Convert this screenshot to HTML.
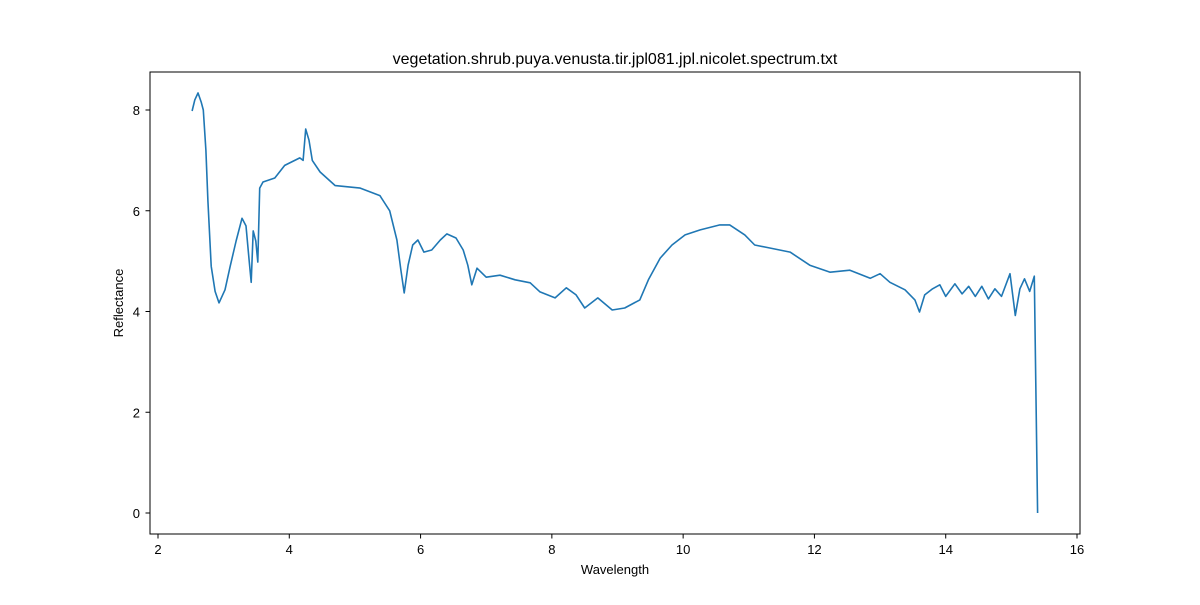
<!DOCTYPE html>
<html><head><meta charset="utf-8"><style>
body{margin:0;background:#fff;font-family:"Liberation Sans","DejaVu Sans",sans-serif}
</style></head><body>
<svg id="chart" width="1200" height="600" xmlns="http://www.w3.org/2000/svg">
<rect width="1200" height="600" fill="#fff"/>
<text x="615" y="64" text-anchor="middle" font-size="16">vegetation.shrub.puya.venusta.tir.jpl081.jpl.nicolet.spectrum.txt</text>
<g id="axes"></g>
<path id="line" fill="none" stroke="#1f77b4" stroke-width="1.6" stroke-linejoin="round"/>
<rect x="150" y="72" width="930" height="462" fill="none" stroke="#000" stroke-width="1"/>
<text x="615" y="574" text-anchor="middle" font-size="13">Wavelength</text>
<text transform="translate(123,303) rotate(-90)" text-anchor="middle" font-size="13">Reflectance</text>
</svg>
<script>
const xTicks=[2,4,6,8,10,12,14,16];
const yTicks=[0,2,4,6,8];
const wavelength=[2.52,2.56,2.61,2.66,2.69,2.73,2.76,2.81,2.87,2.93,3.02,3.1,3.19,3.28,3.34,3.39,3.42,3.45,3.49,3.52,3.55,3.6,3.78,3.93,4.16,4.21,4.25,4.3,4.35,4.47,4.7,5.08,5.38,5.53,5.64,5.7,5.75,5.81,5.88,5.96,6.05,6.17,6.3,6.4,6.54,6.65,6.72,6.78,6.86,7.0,7.21,7.44,7.67,7.82,8.05,8.22,8.37,8.5,8.7,8.92,9.11,9.34,9.47,9.65,9.83,10.03,10.26,10.56,10.71,10.94,11.09,11.32,11.63,11.93,12.24,12.54,12.85,13.0,13.15,13.38,13.53,13.6,13.68,13.8,13.91,14.0,14.14,14.25,14.35,14.45,14.55,14.65,14.75,14.85,14.98,15.06,15.13,15.2,15.28,15.35,15.4];
const reflectance=[7.98,8.2,8.34,8.15,8.0,7.2,6.2,4.9,4.4,4.17,4.43,4.9,5.4,5.85,5.7,5.0,4.58,5.6,5.4,4.98,6.45,6.57,6.65,6.9,7.05,7.0,7.62,7.4,7.0,6.77,6.5,6.45,6.3,6.0,5.42,4.82,4.37,4.92,5.32,5.42,5.18,5.22,5.42,5.54,5.46,5.22,4.92,4.53,4.86,4.68,4.72,4.63,4.57,4.39,4.27,4.47,4.33,4.07,4.27,4.03,4.07,4.23,4.63,5.06,5.32,5.52,5.62,5.72,5.72,5.52,5.32,5.26,5.18,4.92,4.78,4.82,4.66,4.75,4.58,4.43,4.23,3.99,4.33,4.45,4.53,4.3,4.55,4.35,4.5,4.3,4.5,4.25,4.45,4.3,4.75,3.92,4.45,4.65,4.4,4.7,0];
const xs=v=>158+(v-2)*(1077-158)/14;
const ys=v=>513-v*(513-110)/8;
const NS="http://www.w3.org/2000/svg";
const ax=document.getElementById('axes');
function mk(t,a){const e=document.createElementNS(NS,t);for(const k in a)e.setAttribute(k,a[k]);ax.appendChild(e);return e;}
xTicks.forEach(t=>{const x=xs(t);
const l=mk('line',{x1:x,x2:x,y1:534,y2:538.5,stroke:'#000'});


const tx=mk('text',{x:x,y:554,'text-anchor':'middle','font-size':13});tx.textContent=t;

});
yTicks.forEach(t=>{const y=ys(t);
const l=mk('line',{x1:145.5,x2:150,y1:y,y2:y,stroke:'#000'});


const tx=mk('text',{x:140,y:y+5,'text-anchor':'end','font-size':13});tx.textContent=t;

});
document.getElementById('line').setAttribute('d',wavelength.map((w,i)=>(i?'L':'M')+xs(w).toFixed(1)+','+ys(reflectance[i]).toFixed(1)).join(''));
</script>
</body></html>
